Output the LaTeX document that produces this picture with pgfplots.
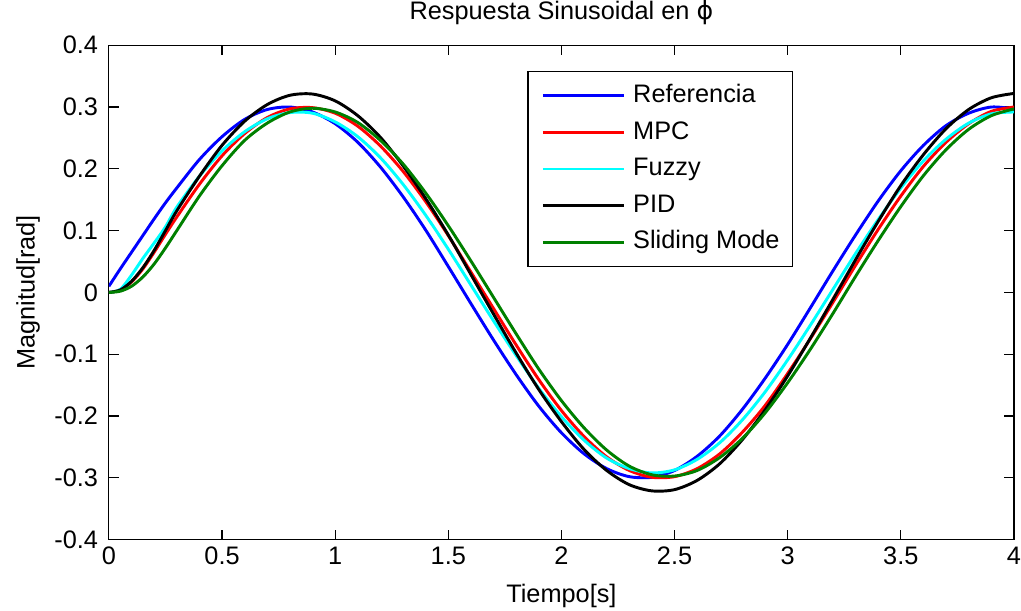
\documentclass[border=0pt]{standalone}
\usepackage{fontspec}
\setmainfont{Liberation Sans}
\newfontfamily\symfont{DejaVu Sans}
\usepackage{pgfplots}
\usepackage{pgfplotstable}
\pgfplotsset{compat=1.18}
\definecolor{mblue}{RGB}{0,0,255}
\definecolor{mred}{RGB}{255,0,0}
\definecolor{mcyan}{RGB}{0,255,255}
\definecolor{mgreen}{RGB}{0,128,0}
\pgfplotstableread{
t ref mpc fuzzy pid smc
0 0.010 0 0 0 0
0.05 0.038 0.004 0.005 0.004 0.002
0.1 0.065 0.017 0.028 0.018 0.010
0.15 0.092 0.038 0.055 0.040 0.025
0.2 0.119 0.065 0.080 0.068 0.046
0.25 0.145 0.094 0.106 0.100 0.072
0.3 0.169 0.122 0.138 0.132 0.100
0.4 0.215 0.175 0.188 0.188 0.156
0.5 0.252 0.221 0.229 0.238 0.205
0.6 0.280 0.257 0.260 0.277 0.246
0.7 0.296 0.283 0.281 0.304 0.274
0.8 0.300 0.297 0.291 0.319 0.292
0.9 0.292 0.299 0.290 0.321 0.298
1.0 0.273 0.290 0.276 0.310 0.292
1.1 0.243 0.269 0.252 0.286 0.275
1.2 0.203 0.237 0.218 0.251 0.246
1.3 0.155 0.196 0.175 0.205 0.208
1.4 0.101 0.147 0.125 0.152 0.161
1.5 0.042 0.092 0.070 0.093 0.108
1.6 -0.018 0.033 0.012 0.029 0.051
1.7 -0.077 -0.026 -0.046 -0.035 -0.008
1.8 -0.133 -0.085 -0.102 -0.098 -0.067
1.9 -0.184 -0.141 -0.155 -0.157 -0.124
2.0 -0.227 -0.191 -0.201 -0.209 -0.175
2.1 -0.261 -0.233 -0.239 -0.254 -0.219
2.2 -0.285 -0.266 -0.268 -0.288 -0.255
2.3 -0.298 -0.288 -0.285 -0.311 -0.281
2.4 -0.299 -0.299 -0.292 -0.321 -0.295
2.5 -0.288 -0.298 -0.287 -0.319 -0.297
2.6 -0.265 -0.285 -0.270 -0.304 -0.288
2.7 -0.232 -0.261 -0.243 -0.277 -0.267
2.8 -0.189 -0.226 -0.206 -0.238 -0.236
2.9 -0.139 -0.183 -0.161 -0.190 -0.195
3.0 -0.084 -0.131 -0.109 -0.135 -0.146
3.1 -0.025 -0.075 -0.053 -0.074 -0.092
3.2 0.035 -0.016 0.005 -0.011 -0.034
3.3 0.093 0.044 0.063 0.053 0.026
3.4 0.148 0.102 0.118 0.115 0.084
3.5 0.197 0.156 0.169 0.173 0.139
3.6 0.238 0.204 0.213 0.223 0.189
3.7 0.270 0.243 0.248 0.265 0.231
3.8 0.290 0.273 0.274 0.296 0.264
3.9 0.300 0.293 0.289 0.315 0.286
4.0 0.297 0.300 0.292 0.322 0.297
}\datatable
\begin{document}
\begin{tikzpicture}[font=\fontsize{19}{23}\selectfont]
\begin{axis}[
  scale only axis,
  width=679.5pt, height=371.25pt,
  xmin=0, xmax=4, ymin=-0.4, ymax=0.4,
  xtick={0,0.5,1,1.5,2,2.5,3,3.5,4},
  xticklabels={0,0.5,1,1.5,2,2.5,3,3.5,4},
  ytick={-0.4,-0.3,-0.2,-0.1,0,0.1,0.2,0.3,0.4},
  yticklabels={-0.4,-0.3,-0.2,-0.1,0,0.1,0.2,0.3,0.4},
  tick align=inside,
  tick pos=both,
  major tick length=7.5pt,
  every tick/.style={black, line width=0.9pt},
  axis line style={line width=0.9pt},
  xticklabel style={inner sep=0pt, anchor=north, yshift=-5pt},
  yticklabel style={inner sep=0pt, anchor=east, xshift=-8pt},
  title={Respuesta Sinusoidal en {\symfont ϕ}},
  title style={at={(axis description cs:0.5,1.0364)}, anchor=base, inner sep=0pt},
  xlabel={Tiempo[s]},
  xlabel style={at={(axis description cs:0.5,-0.0889)}, anchor=north, inner sep=0pt},
  ylabel={Magnitud[rad]},
  ylabel style={at={(axis description cs:-0.1026,0.5)}, rotate=0, anchor=north, inner sep=0pt},
  legend style={at={(axis description cs:0.4625,0.9475)}, anchor=north west,
    draw=black, line width=0.9pt, inner xsep=10pt, inner ysep=9pt,
    row sep=9.5pt, column sep=6pt,
    nodes={inner sep=0pt, text height=14pt, text depth=4pt}},
  legend cell align=left,
  legend image code/.code={\draw[#1, line width=2.2pt] (0pt,0pt) -- (60.75pt,0pt);},
  every axis plot/.append style={line width=2.2pt, smooth, tension=0.5},
]
\addplot[mblue] table[x=t, y=ref] {\datatable};
\addlegendentry{Referencia}
\addplot[mred] table[x=t, y=mpc] {\datatable};
\addlegendentry{MPC}
\addplot[mcyan] table[x=t, y=fuzzy] {\datatable};
\addlegendentry{Fuzzy}
\addplot[black] table[x=t, y=pid] {\datatable};
\addlegendentry{PID}
\addplot[mgreen] table[x=t, y=smc] {\datatable};
\addlegendentry{Sliding Mode}
\coordinate (sw) at (rel axis cs:0,0);
\coordinate (ne) at (rel axis cs:1,1);
\end{axis}
\path ([shift={(-81.75pt,-53.25pt)}]sw) rectangle ([shift={(4.5pt,33.75pt)}]ne);
\end{tikzpicture}
\end{document}
